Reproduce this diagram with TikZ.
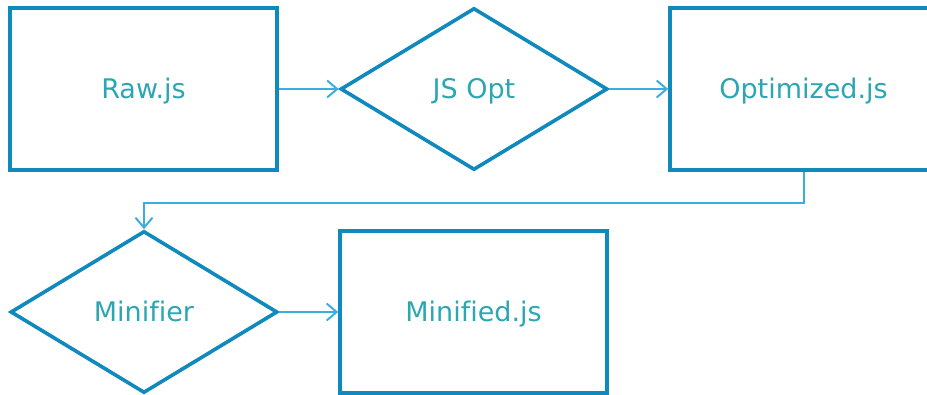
\documentclass[tikz,border=0pt]{standalone}
\usepackage{fontspec}
\setmainfont{DejaVu Sans}[Ligatures=NoCommon]
\usetikzlibrary{shapes.geometric}
\usetikzlibrary{arrows.meta}
\definecolor{boxblue}{HTML}{1089BD}
\definecolor{lineblue}{HTML}{3AAEDF}
\definecolor{txtteal}{HTML}{2BA7B2}

\begin{document}
\begin{tikzpicture}[x=1pt, y=-1pt,
  file/.style={draw=boxblue, line width=3.6pt, minimum width=267pt, minimum height=162pt,
    text=txtteal, font=\fontsize{27}{32}\selectfont, text height=24pt, text depth=5pt},
  tool/.style={file, diamond, inner sep=0pt},
  flow/.style={draw=lineblue, line width=2pt, -{Straight Barb[length=10pt,width=17pt]}}]
\useasboundingbox (0,0) rectangle (927,395);
\node[file] (raw) at (143.5,89) {Raw.js};
\node[tool] (jsopt) at (474,89) {JS Opt};
\node[file] (opt) at (803.5,89) {Optimized.js};
\node[tool] (minifier) at (144,312) {Minifier};
\node[file] (minified) at (473.5,312) {Minified.js};
\draw[flow] (raw) -- (jsopt);
\draw[flow] (jsopt) -- (opt);
\draw[flow] (opt.south) -- ++(0,31) -| (minifier.north);
\draw[flow] (minifier) -- (minified);
\end{tikzpicture}
\end{document}
